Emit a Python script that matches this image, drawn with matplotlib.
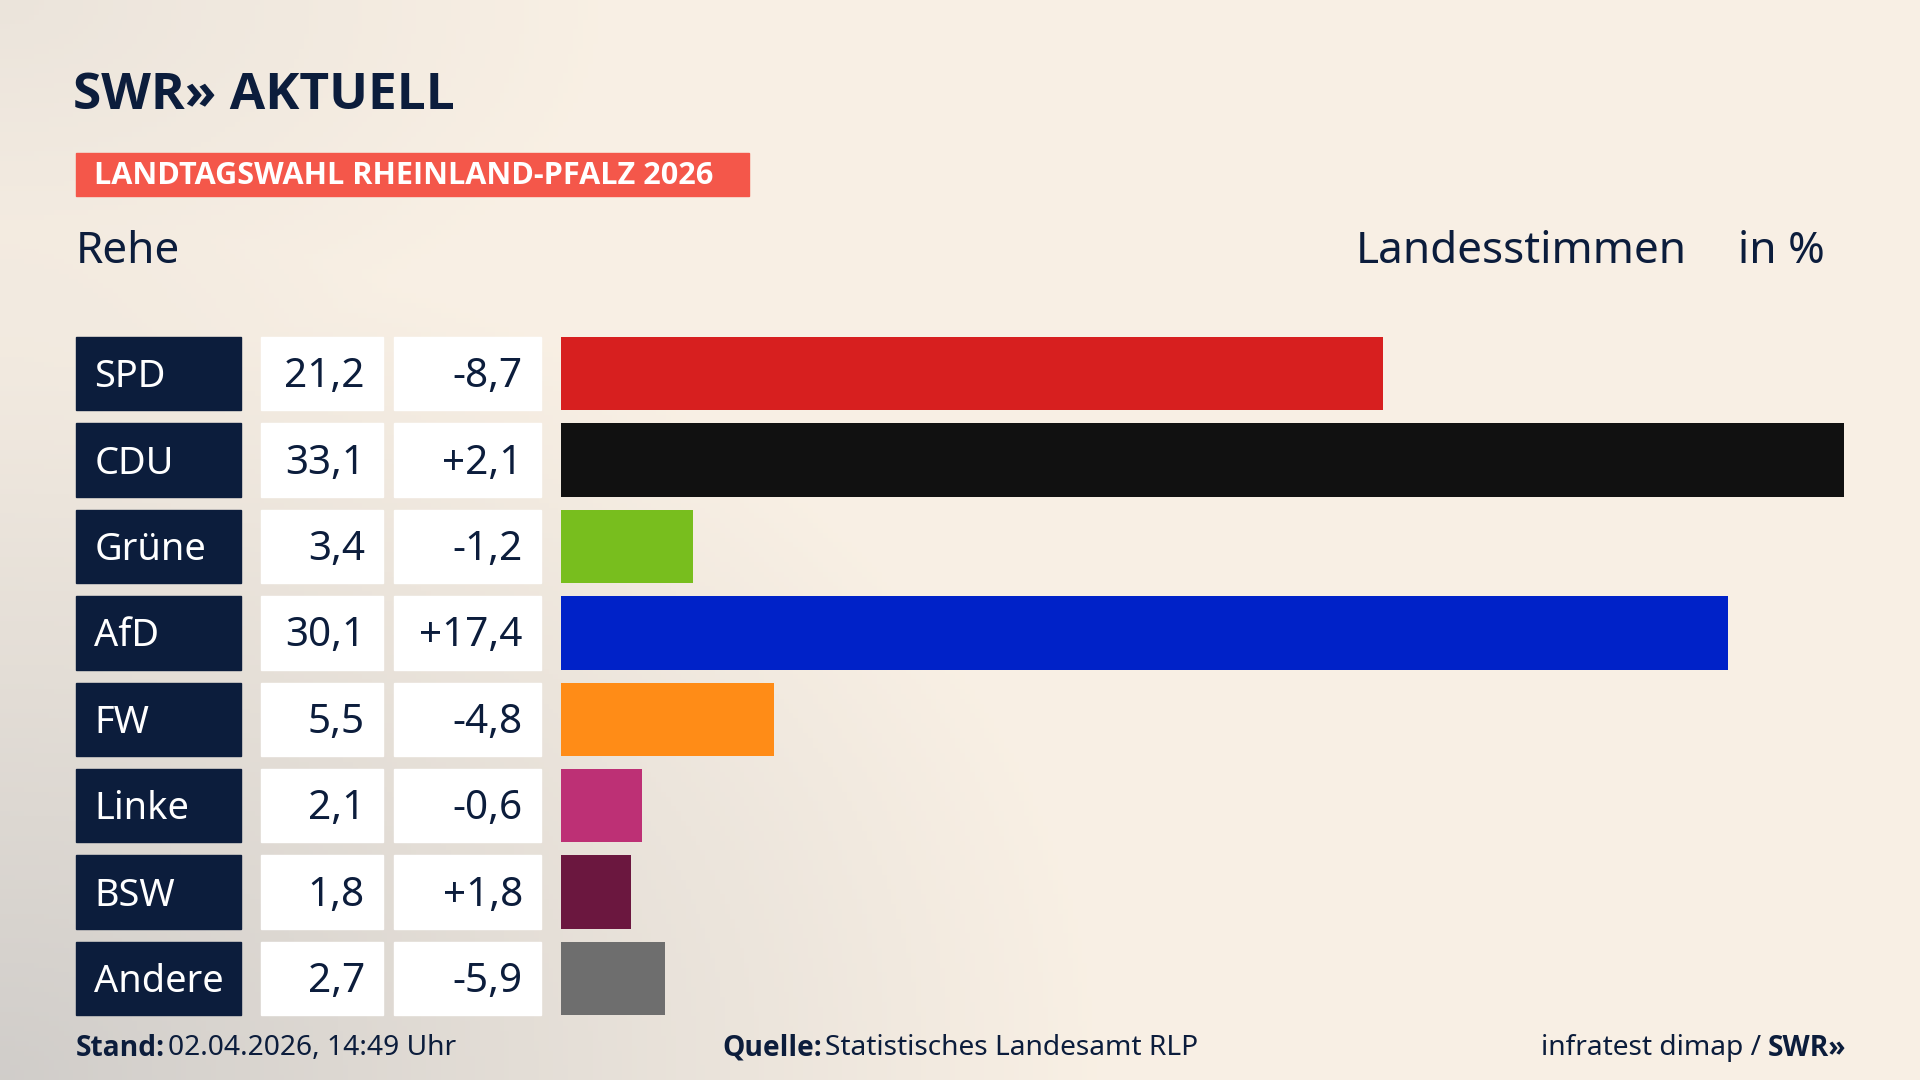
import numpy as np
import matplotlib.pyplot as plt

plt.rcParams['font.family'] = ['Noto Sans', 'DejaVu Sans']
BOLD = ['Open Sans', 'Roboto', 'DejaVu Sans']

parties = ['SPD', 'CDU', 'Grüne', 'AfD', 'FW', 'Linke', 'BSW', 'Andere']
shares = [21.2, 33.1, 3.4, 30.1, 5.5, 2.1, 1.8, 2.7]
changes = [-8.7, 2.1, -1.2, 17.4, -4.8, -0.6, 1.8, -5.9]
colors = ['#d71f1f', '#111111', '#78be1e', '#0022c8', '#ff8c17', '#bd3075', '#6b173f', '#6e6e6e']

W, H = 1568, 882
S = 1920 / W
NAVY = '#0c1d3c'

def pt(em_px):
    return em_px * S * 0.72

def fmt(v, sign=False):
    s = f'{v:+.1f}' if sign else f'{v:.1f}'
    return s.replace('.', ',')

fig = plt.figure(figsize=(19.2, 10.8), dpi=100)
ax = fig.add_axes([0, 0, 1, 1])
ax.set_xlim(0, W)
ax.set_ylim(H, 0)
ax.axis('off')

# background: cream with grey shading towards the lower left
yy, xx = np.mgrid[0:H:4, 0:W:4]
d = np.clip(1 - np.hypot(xx / 900, (H - yy) / 700), 0, 1)
top = np.clip(1 - np.hypot(xx / 500, yy / 300), 0, 1) * 0.3
base = np.array([0.975, 0.94, 0.895])
grey = np.array([0.80, 0.79, 0.78])
t = np.clip(d * 0.9 + top, 0, 1)[..., None]
img = base * (1 - t) + grey * t
ax.imshow(img, extent=[0, W, H, 0], aspect='auto', zorder=0)

# logo + header
ax.text(60, 78, 'SWR» AKTUELL', fontsize=pt(42), fontweight='bold', family=BOLD,
        color=NAVY, va='center', ha='left')
ax.add_patch(plt.Rectangle((62, 125), 550, 35, color='#f4574a', zorder=2))
ax.text(77, 144, 'LANDTAGSWAHL RHEINLAND-PFALZ 2026', fontsize=pt(25), fontweight='bold',
        family=BOLD, color='white', va='center', ha='left', zorder=3)
ax.text(62, 206, 'Rehe', fontsize=pt(36), color=NAVY, va='center', ha='left')
ax.text(1378, 206, 'Landesstimmen', fontsize=pt(36), color=NAVY, va='center', ha='right')
ax.text(1490, 206, 'in %', fontsize=pt(36), color=NAVY, va='center', ha='right')

# rows
y0, pitch, h = 275, 70.6, 60
scale = (1506 - 458) / max(shares)
ys = [y0 + i * pitch + h / 2 for i in range(len(parties))]
ax.barh(ys, [s * scale for s in shares], left=458, height=h, color=colors, zorder=2)
for y, p, s, c in zip(ys, parties, shares, changes):
    ax.add_patch(plt.Rectangle((62, y - h / 2), 135, h, color=NAVY, zorder=2))
    ax.add_patch(plt.Rectangle((213, y - h / 2), 100, h, color='white', zorder=2))
    ax.add_patch(plt.Rectangle((322, y - h / 2), 120, h, color='white', zorder=2))
    ax.text(77, y + 3, p, fontsize=pt(31), color='white', va='center', ha='left', zorder=3)
    ax.text(298, y + 3, fmt(s), fontsize=pt(33), color=NAVY, va='center', ha='right', zorder=3)
    ax.text(427, y + 3, fmt(c, True), fontsize=pt(33), color=NAVY, va='center', ha='right', zorder=3)

# footer
fy = 856
fs = pt(23)
ax.text(62, fy, 'Stand:', fontsize=fs, fontweight='bold', family=BOLD, color=NAVY,
        va='center', ha='left')
ax.text(137, fy, '02.04.2026, 14:49 Uhr', fontsize=fs, color=NAVY, va='center', ha='left')
ax.text(590, fy, 'Quelle:', fontsize=fs, fontweight='bold', family=BOLD, color=NAVY,
        va='center', ha='left')
ax.text(674, fy, 'Statistisches Landesamt RLP', fontsize=fs, color=NAVY, va='center', ha='left')
ax.text(1438, fy, 'infratest dimap /', fontsize=fs, color=NAVY, va='center', ha='right')
ax.text(1444, fy, 'SWR»', fontsize=fs, fontweight='bold', family=BOLD, color=NAVY,
        va='center', ha='left')

fig.savefig('out.png', dpi=100)
